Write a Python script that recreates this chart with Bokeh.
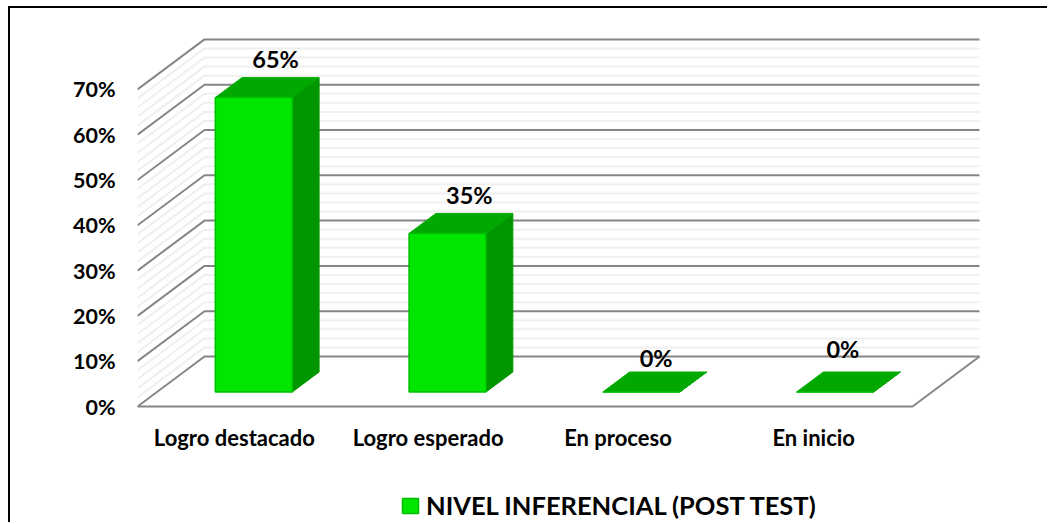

import numpy as np
from bokeh.embed import file_html
from bokeh.resources import INLINE
from bokeh.plotting import figure
from bokeh.models import (ColumnDataSource, FixedTicker, Range1d, Legend, LegendItem)
from bokeh.core.properties import value

# data
categories = ["Logro destacado", "Logro esperado", "En proceso", "En inicio"]
values = [65, 35, 0, 0]
value_labels = ["65%", "35%", "0%", "0%"]
y_ticks = [0, 10, 20, 30, 40, 50, 60, 70]
series_name = "NIVEL INFERENCIAL (POST TEST)"

# layout constants (pixels in the picture)
PAGE_L, PAGE_T = 8, 6
CB = 2                  # css border width
W, H = 1039, 516        # canvas size, inside the border
L, Y0, T = 137, 406, 20
MB_L = L - PAGE_L - CB
MB_T = T - PAGE_T - CB
MB_R = 9
FRAME_W = W - MB_L - MB_R
FRAME_H = H - MB_T
PX_X = 193.75
PX_Y = 4.53
DX = 67 / PX_X          # wall depth in category units
DY = 50 / PX_Y          # wall depth in percent units
BAR_W = 77 / PX_X
D0, D1 = 0.29, 0.69     # bar's depth span (fraction of floor depth)
FONT = "Lato"

p = figure(width=W, height=H, output_backend="svg", toolbar_location=None,
           x_range=Range1d(0, FRAME_W / PX_X),
           y_range=Range1d((Y0 - T - FRAME_H) / PX_Y, (Y0 - T) / PX_Y),
           min_border_left=MB_L, min_border_right=MB_R,
           min_border_top=MB_T, min_border_bottom=0,
           outline_line_color=None, background_fill_color=None)
p.margin = (PAGE_T, 0, 0, PAGE_L)
p.styles = {"border-top": f"{CB}px solid #000", "border-left": f"{CB}px solid #000"}
p.xgrid.visible = False
p.ygrid.visible = False


def proj(x, y, d):
    return x + d * DX, y + d * DY


# walls and floor
x_span = 4
majors = np.array(y_ticks, dtype=float)
minors = np.array([v for v in np.arange(0, y_ticks[-1] + 1, 2) if v not in y_ticks], dtype=float)
for lvls, col, w in [(minors, "#efefef", 2), (majors, "#868686", 2)]:
    xs, ys = [], []
    for v in lvls:
        x0, y0 = proj(0, v, 0)
        x1, y1 = proj(0, v, 1)
        x2, y2 = proj(x_span, v, 1)
        xs.append([x0, x1, x2])
        ys.append([y0, y1, y2])
    p.multi_line(xs, ys, line_color=col, line_width=w)

fx = [proj(0, 0, 0)[0], proj(x_span, 0, 0)[0], proj(x_span, 0, 1)[0]]
fy = [proj(0, 0, 0)[1], proj(x_span, 0, 0)[1], proj(x_span, 0, 1)[1]]
p.line(fx, fy, line_color="#868686", line_width=2)

# bars
front_x, front_y, side_x, side_y, top_x, top_y = [], [], [], [], [], []
lab_x, lab_y = [], []
for i, v in enumerate(values):
    a = i + 0.5 - BAR_W / 2
    b = i + 0.5 + BAR_W / 2
    f0, f1 = D0, D1
    P = proj
    fl = [P(a, 0, f0), P(b, 0, f0), P(b, v, f0), P(a, v, f0)]
    sd = [P(b, 0, f0), P(b, 0, f1), P(b, v, f1), P(b, v, f0)]
    tp = [P(a, v, f0), P(b, v, f0), P(b, v, f1), P(a, v, f1)]
    front_x.append([q[0] for q in fl]); front_y.append([q[1] for q in fl])
    side_x.append([q[0] for q in sd]); side_y.append([q[1] for q in sd])
    top_x.append([q[0] for q in tp]); top_y.append([q[1] for q in tp])
    c = P(i + 0.5, v, f1)
    lab_x.append(c[0]); lab_y.append(c[1])

p.patches(side_x, side_y, fill_color="#009600", line_color="#009a00", line_width=1)
p.patches(top_x, top_y, fill_color="#00a800", line_color="#00ac00", line_width=1)
front = p.patches(front_x, front_y, fill_color="#00e600", line_color="#00bf00", line_width=1.5)

# data labels
lab_dx = [-5, -5, -12, -19]
lab_dy = [0, -1, -5, 4]
src = ColumnDataSource(dict(x=lab_x, y=lab_y, t=value_labels, dx=lab_dx, dy=[-d - 5 for d in lab_dy]))
p.text("x", "y", text="t", source=src, x_offset="dx", y_offset="dy", text_align="center",
       text_baseline="bottom", text_font=value(FONT), text_font_style="bold",
       text_font_size="23.5px", text_color="#000000")

# axes
ax = p.yaxis[0]
ax.ticker = FixedTicker(ticks=y_ticks)
ax.major_label_overrides = {t: f"{t}%" for t in y_ticks}
ax.axis_line_color = None
ax.major_tick_line_color = None
ax.minor_tick_line_color = None
ax.major_label_standoff = 16
ax.major_label_text_font = FONT
ax.major_label_text_font_style = "bold"
ax.major_label_text_font_size = "21.5px"
ax.major_label_text_color = "#000000"

label_pos = [0.5, 1.5, 2.48, 3.49]
ax = p.xaxis[0]
ax.fixed_location = 0
ax.ticker = FixedTicker(ticks=label_pos)
ax.major_label_overrides = dict(zip(label_pos, categories))
ax.axis_line_color = None
ax.major_tick_line_color = None
ax.minor_tick_line_color = None
ax.major_label_standoff = 11
ax.major_label_text_font = FONT
ax.major_label_text_font_style = "bold"
ax.major_label_text_font_size = "22px"
ax.major_label_text_color = "#000000"

# legend
legend = Legend(items=[LegendItem(label=value(series_name), renderers=[front], index=0)],
                location=(400 - L, 4), orientation="horizontal",
                border_line_color=None, background_fill_color=None, background_fill_alpha=0,
                padding=0, margin=0, spacing=0, glyph_width=20, glyph_height=19, label_standoff=6,
                label_text_font=FONT, label_text_font_style="bold", label_text_font_size="25.5px",
                label_text_color="#000000", label_text_baseline="middle")
p.add_layout(legend, "center")

open("out.html", "w").write(file_html(p, INLINE))
